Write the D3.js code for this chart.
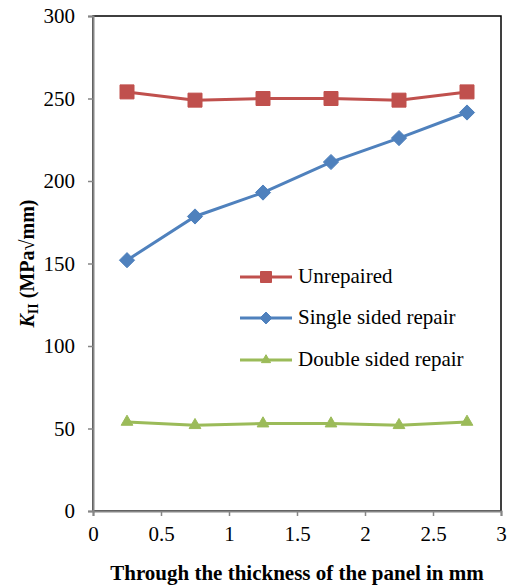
<!DOCTYPE html>
<html>
<head>
<meta charset="utf-8">
<script src="https://cdn.jsdelivr.net/npm/d3@7"></script>
<style>
  html, body { margin: 0; padding: 0; background: #fff; }
  svg text { font-family: "Liberation Serif", "Times New Roman", serif; fill: #000; }
</style>
</head>
<body>
<svg id="chart" width="511" height="588"></svg>
<script>
// Positions through the thickness (mm)
const thickness = [0.25, 0.75, 1.25, 1.75, 2.25, 2.75];
// K_II values (MPa√mm) per repair configuration
const unrepaired = [254, 249, 250, 250, 249, 254];
const singleSided = [152, 178.5, 193, 211.5, 226, 241.5];
const doubleSided = [54, 52, 53, 53, 52, 54];

const seriesNames = ["Unrepaired", "Single sided repair", "Double sided repair"];
const seriesColors = ["#C0504D", "#4F81BD", "#9BBB59"];
const seriesShapes = ["square", "diamond", "triangle"];

const xTicks = [0, 0.5, 1, 1.5, 2, 2.5, 3];
const yTicks = [0, 50, 100, 150, 200, 250, 300];

const serif = "Liberation Serif, Times New Roman, serif";

const series = [unrepaired, singleSided, doubleSided].map((vals, i) => ({
  name: seriesNames[i], color: seriesColors[i], shape: seriesShapes[i],
  points: thickness.map((t, j) => ({ x: t, y: vals[j] }))
}));

const svg = d3.select("#chart");
const m = { left: 93, right: 501, top: 16, bottom: 511 };

const x = d3.scaleLinear().domain([0, 3]).range([m.left, m.right]);
const y = d3.scaleLinear().domain([0, 300]).range([m.bottom, m.top]);

// Plot-area frame
svg.append("rect")
  .attr("x", m.left).attr("y", m.top)
  .attr("width", m.right - m.left).attr("height", m.bottom - m.top)
  .attr("fill", "none").attr("stroke", "#000").attr("stroke-width", 1.5);

// Axes
const yAxis = d3.axisLeft(y).tickValues(yTicks).tickSize(5).tickPadding(13).tickFormat(d3.format("d"));
const xAxis = d3.axisBottom(x).tickValues(xTicks).tickSize(5).tickPadding(10).tickFormat(d => String(d));

const gy = svg.append("g").attr("transform", `translate(${m.left},0)`).call(yAxis);
const gx = svg.append("g").attr("transform", `translate(0,${m.bottom})`).call(xAxis);

[gx, gy].forEach(g => {
  g.attr("font-family", serif).attr("font-size", 21);
  g.select(".domain").attr("stroke", "#868686").attr("stroke-width", 2);
  g.selectAll(".tick line").attr("stroke", "#868686").attr("stroke-width", 1.5);
  g.selectAll(".tick text").attr("fill", "#000");
});

// Axis titles
svg.append("text")
  .attr("x", (m.left + m.right) / 2 + 0).attr("y", 580)
  .attr("text-anchor", "middle")
  .attr("font-family", serif)
  .style("font-size", "21px").style("font-weight", "bold")
  .text("Through the thickness of the panel in mm");

const yTitle = svg.append("text")
  .attr("transform", `translate(34,${(m.top + m.bottom) / 2}) rotate(-90)`)
  .attr("text-anchor", "middle")
  .attr("font-family", serif)
  .style("font-size", "20px").style("font-weight", "bold");
yTitle.append("tspan").style("font-style", "italic").text("K");
yTitle.append("tspan").attr("dy", 4).style("font-size", "14px").text("II");
yTitle.append("tspan").attr("dy", -4).text(" (MPa√mm)");

// Marker drawing
function marker(sel, shape, color, size) {
  const sym = shape === "square" ? d3.symbolSquare : shape === "diamond" ? d3.symbolDiamond2 : d3.symbolTriangle2;
  const area = shape === "square" ? size * size : shape === "diamond" ? size * size * 0.75 : size * size * 0.5;
  sel.append("path")
    .attr("d", d3.symbol(sym, area)())
    .attr("fill", color).attr("stroke", color).attr("stroke-width", 1);
}

const line = d3.line().x(d => x(d.x)).y(d => y(d.y));

series.forEach(s => {
  svg.append("path").datum(s.points)
    .attr("d", line).attr("fill", "none")
    .attr("stroke", s.color).attr("stroke-width", 3);
  s.points.forEach(p => {
    const g = svg.append("g").attr("transform", `translate(${x(p.x)},${y(p.y)})`);
    marker(g, s.shape, s.color, 14);
  });
});

// Legend
const legendRows = [277, 318, 360];
series.forEach((s, i) => {
  const ly = legendRows[i];
  svg.append("line").attr("x1", 240).attr("x2", 292).attr("y1", ly).attr("y2", ly)
    .attr("stroke", s.color).attr("stroke-width", 3);
  const g = svg.append("g").attr("transform", `translate(266,${ly})`);
  marker(g, s.shape, s.color, 11);
  svg.append("text").attr("x", 298).attr("y", ly + 6)
    .attr("font-family", serif)
    .style("font-size", "21px").text(s.name);
});
</script>
</body>
</html>
